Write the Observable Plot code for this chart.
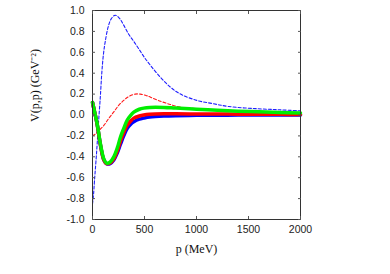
<!DOCTYPE html>
<html><head><meta charset="utf-8">
<script src="https://cdn.jsdelivr.net/npm/d3@7"></script>
<script src="https://cdn.jsdelivr.net/npm/@observablehq/plot@0.6"></script>
<style>body{margin:0;background:#fff}</style>
</head><body><div id="chart"></div>
<script>
const xTicks = [0, 500, 1000, 1500, 2000];
const yTicks = [-1.0, -0.8, -0.6, -0.4, -0.2, 0.0, 0.2, 0.4, 0.6, 0.8, 1.0];

// thick solid curves
const pThick     = [0, 20, 45, 77, 109, 135, 170, 205, 240, 269, 300, 333, 365, 397, 450, 493, 550, 686, 800, 1000, 1200, 1400, 1600, 1800, 2000];
const greenThick = [0.12, 0.03, -0.085, -0.28, -0.42, -0.46, -0.45, -0.40, -0.31, -0.21, -0.13, -0.05, -0.005, 0.027, 0.055, 0.066, 0.072, 0.072, 0.066, 0.056, 0.046, 0.037, 0.03, 0.024, 0.02];
const redThick   = [0.12, 0.03, -0.09, -0.29, -0.43, -0.465, -0.46, -0.42, -0.34, -0.25, -0.17, -0.10, -0.06, -0.03, -0.01, 0.0, 0.007, 0.012, 0.012, 0.01, 0.009, 0.008, 0.007, 0.006, 0.005];
const blueThick  = [0.12, 0.03, -0.09, -0.29, -0.43, -0.465, -0.465, -0.43, -0.36, -0.28, -0.20, -0.13, -0.09, -0.065, -0.04, -0.03, -0.02, -0.01, -0.006, -0.003, -0.002, -0.001, -0.001, 0.0, 0.0];

// dashed curves
const pBlueDash  = [0, 10, 19, 40, 58, 74, 90, 105, 122, 150, 180, 218, 260, 300, 350, 400, 450, 500, 558, 654, 750, 846, 1006, 1166, 1311, 1583, 1800, 2000];
const blueDash   = [-0.85, -0.76, -0.63, -0.35, -0.07, 0.155, 0.41, 0.58, 0.70, 0.84, 0.92, 0.955, 0.925, 0.86, 0.77, 0.70, 0.625, 0.55, 0.474, 0.36, 0.266, 0.2, 0.139, 0.107, 0.081, 0.06, 0.05, 0.04];
const pRedDash   = [0, 30, 60, 109, 154, 205, 250, 300, 346, 410, 460, 520, 558, 654, 750, 846, 1000, 1166, 1311, 1583, 2000];
const redDash    = [-0.2, -0.18, -0.15, -0.1, -0.036, 0.03, 0.09, 0.14, 0.175, 0.2, 0.2, 0.185, 0.17, 0.132, 0.1, 0.075, 0.06, 0.05, 0.043, 0.033, 0.021];

const thick = pThick.map((p, i) => ({p, g: greenThick[i], r: redThick[i], b: blueThick[i]}));
const bd = pBlueDash.map((p, i) => ({p, v: blueDash[i]}));
const rd = pRedDash.map((p, i) => ({p, v: redDash[i]}));

const fmtY = d => d.toFixed(1);
const fmtX = d => String(d);
const sans = "Liberation Sans, Arial, sans-serif";
const serif = "Liberation Serif, Times New Roman, serif";

const chart = Plot.plot({
  width: 390, height: 274,
  marginLeft: 92, marginRight: 90, marginTop: 10, marginBottom: 55,
  style: {fontFamily: sans, fontSize: "10.5px", color: "#222", background: "#fff"},
  x: {domain: [0, 2000]},
  y: {domain: [-1, 1]},
  marks: [
    Plot.line(bd, {x: "p", y: "v", stroke: "#1f1fff", strokeWidth: 1.1, strokeDasharray: "3,2", curve: "catmull-rom"}),
    Plot.line(rd, {x: "p", y: "v", stroke: "#ff1a1a", strokeWidth: 1.1, strokeDasharray: "3,2", curve: "catmull-rom"}),
    Plot.line(thick, {x: "p", y: "b", stroke: "#0000ff", strokeWidth: 3.5, curve: "catmull-rom"}),
    Plot.line(thick, {x: "p", y: "r", stroke: "#ff0000", strokeWidth: 3.5, curve: "catmull-rom"}),
    Plot.line(thick, {x: "p", y: "g", stroke: "#00ee00", strokeWidth: 3.5, curve: "catmull-rom"}),
    Plot.frame({stroke: "#333", strokeWidth: 1}),
    Plot.axisX(xTicks, {anchor: "bottom", tickSize: 0, tickPadding: 6, tickFormat: fmtX, label: null}),
    Plot.axisX(xTicks, {anchor: "bottom", tickSize: -3, tickFormat: () => "", label: null, stroke: "#555"}),
    Plot.axisX(xTicks, {anchor: "top", tickSize: -3, tickFormat: () => "", label: null, stroke: "#555"}),
    Plot.axisY(yTicks, {anchor: "left", tickSize: 0, tickPadding: 8, tickFormat: fmtY, label: null}),
    Plot.axisY(yTicks, {anchor: "left", tickSize: -3, tickFormat: () => "", label: null, stroke: "#555"}),
    Plot.axisY(yTicks, {anchor: "right", tickSize: -3, tickFormat: () => "", label: null, stroke: "#555"}),
    Plot.text(["p (MeV)"], {frameAnchor: "bottom", dy: 33, fontFamily: serif, fontSize: 12, fill: "#111"}),
    Plot.text(["V(p,p) (GeV⁻²)"], {frameAnchor: "left", dx: -57, dy: 7, rotate: -90, fontFamily: serif, fontSize: 12, fill: "#111"})
  ]
});
document.getElementById("chart").appendChild(chart);
</script>
</body></html>
